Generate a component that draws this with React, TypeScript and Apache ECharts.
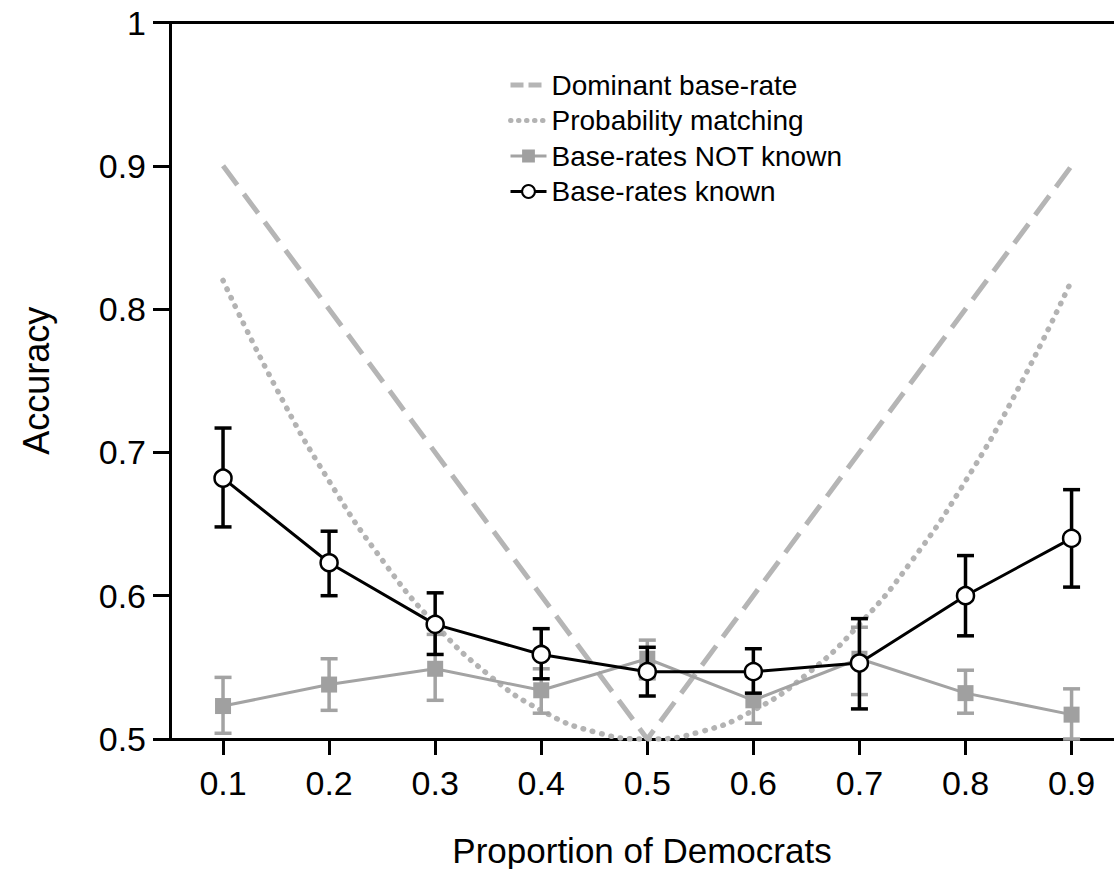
import React, { useEffect, useRef } from "react";
import * as echarts from "echarts";

const xTicks = [0.1, 0.2, 0.3, 0.4, 0.5, 0.6, 0.7, 0.8, 0.9];

// Dominant base-rate strategy (V shape)
const dominantX = [0.1, 0.5, 0.9];
const dominantY = [0.9, 0.5, 0.9];

// Probability matching curve
const matchX = [0.1, 0.15, 0.2, 0.25, 0.3, 0.35, 0.4, 0.45, 0.5, 0.55, 0.6, 0.65, 0.7, 0.75, 0.8, 0.85, 0.9];
const matchY = [0.82, 0.745, 0.68, 0.625, 0.58, 0.545, 0.52, 0.505, 0.5, 0.505, 0.52, 0.545, 0.58, 0.625, 0.68, 0.745, 0.82];

// Base-rates NOT known (grey squares)
const notKnownMean = [0.523, 0.538, 0.549, 0.534, 0.556, 0.527, 0.556, 0.532, 0.517];
const notKnownLow = [0.504, 0.52, 0.527, 0.518, 0.542, 0.511, 0.531, 0.518, 0.5];
const notKnownHigh = [0.543, 0.556, 0.573, 0.549, 0.569, 0.544, 0.578, 0.548, 0.535];

// Base-rates known (black open circles)
const knownMean = [0.682, 0.623, 0.58, 0.559, 0.547, 0.547, 0.553, 0.6, 0.64];
const knownLow = [0.648, 0.6, 0.559, 0.542, 0.53, 0.532, 0.521, 0.572, 0.606];
const knownHigh = [0.717, 0.645, 0.602, 0.577, 0.564, 0.563, 0.584, 0.628, 0.674];

const FONT = "'Liberation Sans', Arial, Helvetica, sans-serif";
const DASH_COLOR = "#b5b5b5";
const DOT_COLOR = "#b3b3b3";
const GREY = "#a3a3a3";

function errorBarSeries(name: string, low: number[], high: number[], color: string, width: number, cap: number, z: number) {
  return {
    name,
    type: "custom",
    z,
    data: xTicks.map((x, i) => [x, low[i], high[i]]),
    encode: { x: 0, y: [1, 2] },
    renderItem: (params: any, api: any) => {
      const x = api.value(0);
      const pLo = api.coord([x, api.value(1)]);
      const pHi = api.coord([x, api.value(2)]);
      const hw = cap / 2;
      const style = { stroke: color, lineWidth: width };
      return {
        type: "group",
        children: [
          { type: "line", shape: { x1: pLo[0], y1: pLo[1], x2: pHi[0], y2: pHi[1] }, style },
          { type: "line", shape: { x1: pLo[0] - hw, y1: pLo[1], x2: pLo[0] + hw, y2: pLo[1] }, style },
          { type: "line", shape: { x1: pHi[0] - hw, y1: pHi[1], x2: pHi[0] + hw, y2: pHi[1] }, style },
        ],
      };
    },
  };
}

export default function App() {
  const ref = useRef<HTMLDivElement>(null);
  useEffect(() => {
    if (!ref.current) return;
    const chart = echarts.init(ref.current, null, { renderer: "svg" });
    const hidden = { color: "rgba(0,0,0,0)", borderColor: "rgba(0,0,0,0)", borderWidth: 0 };
    const option: any = {
      animation: false,
      backgroundColor: "#fff",
      textStyle: { fontFamily: FONT },
      grid: { left: 170, right: 0, top: 22.5, bottom: 130, containLabel: false, outerBoundsMode: "none" },
      legend: {
        orient: "vertical",
        left: 503,
        top: 66,
        itemWidth: 36,
        itemHeight: 16,
        itemGap: 7.5,
        textStyle: { fontSize: 28, color: "#000", fontFamily: FONT, lineHeight: 28 },
        data: [
          { name: "Dominant base-rate", itemStyle: hidden, lineStyle: { color: DASH_COLOR, width: 5, type: [13, 5] } },
          { name: "Probability matching", itemStyle: hidden, lineStyle: { color: DOT_COLOR, width: 5, type: [0.5, 7.5], cap: "round" } },
          { name: "Base-rates NOT known", lineStyle: { color: GREY, width: 3 } },
          { name: "Base-rates known", lineStyle: { color: "#000", width: 3 }, itemStyle: { color: "#fff", borderColor: "#000", borderWidth: 2 } },
        ],
      },
      xAxis: [
        {
          type: "value",
          min: 0.05,
          max: 0.94,
          name: "Proportion of Democrats",
          nameLocation: "middle",
          nameGap: 94,
          nameTextStyle: { fontSize: 35, color: "#000", fontFamily: FONT, lineHeight: 35 },
          axisLine: { show: true, lineStyle: { color: "#000", width: 3 } },
          axisTick: { show: true, length: 16, lineStyle: { color: "#000", width: 3 }, customValues: xTicks },
          axisLabel: { fontSize: 34, color: "#000", margin: 27, fontFamily: FONT, customValues: xTicks, formatter: (v: number) => v.toFixed(1) },
          splitLine: { show: false },
        },
        {
          type: "value",
          position: "top",
          min: 0.05,
          max: 0.94,
          axisLine: { show: true, lineStyle: { color: "#000", width: 3 } },
          axisTick: { show: false },
          axisLabel: { show: false },
          splitLine: { show: false },
        },
      ],
      yAxis: {
        type: "value",
        min: 0.5,
        max: 1,
        interval: 0.1,
        name: "Accuracy",
        nameLocation: "middle",
        nameGap: 116,
        nameRotate: 90,
        nameTextStyle: { fontSize: 36, color: "#000", fontFamily: FONT },
        axisLine: { show: true, lineStyle: { color: "#000", width: 3 } },
        axisTick: { show: true, length: 17, lineStyle: { color: "#000", width: 3 } },
        axisLabel: { fontSize: 34, color: "#000", margin: 24, fontFamily: FONT },
        splitLine: { show: false },
      },
      series: [
        {
          name: "Dominant base-rate",
          type: "line",
          z: 1,
          symbol: "none",
          data: dominantX.map((x, i) => [x, dominantY[i]]),
          lineStyle: { color: DASH_COLOR, width: 5, type: [24, 11] },
          itemStyle: { color: DASH_COLOR },
        },
        {
          name: "Probability matching",
          type: "line",
          z: 1,
          symbol: "none",
          smooth: true,
          data: matchX.map((x, i) => [x, matchY[i]]),
          lineStyle: { color: DOT_COLOR, width: 5.5, type: [0.5, 9], cap: "round" },
          itemStyle: { color: DOT_COLOR },
        },
        errorBarSeries("nk-err", notKnownLow, notKnownHigh, GREY, 3.5, 17, 2),
        {
          name: "Base-rates NOT known",
          type: "line",
          z: 3,
          symbol: "rect",
          symbolSize: 16,
          data: xTicks.map((x, i) => [x, notKnownMean[i]]),
          lineStyle: { color: GREY, width: 3 },
          itemStyle: { color: "#a0a0a0" },
        },
        errorBarSeries("k-err", knownLow, knownHigh, "#000", 3.5, 17, 4),
        {
          name: "Base-rates known",
          type: "line",
          z: 5,
          symbol: "circle",
          symbolSize: 17,
          data: xTicks.map((x, i) => [x, knownMean[i]]),
          lineStyle: { color: "#000", width: 3 },
          itemStyle: { color: "#fff", borderColor: "#000", borderWidth: 2.5 },
        },
      ],
    };
    chart.setOption(option);
    return () => chart.dispose();
  }, []);
  return <div ref={ref} style={{ position: "absolute", left: 0, top: 0, width: 1114, height: 869 }} />;
}
